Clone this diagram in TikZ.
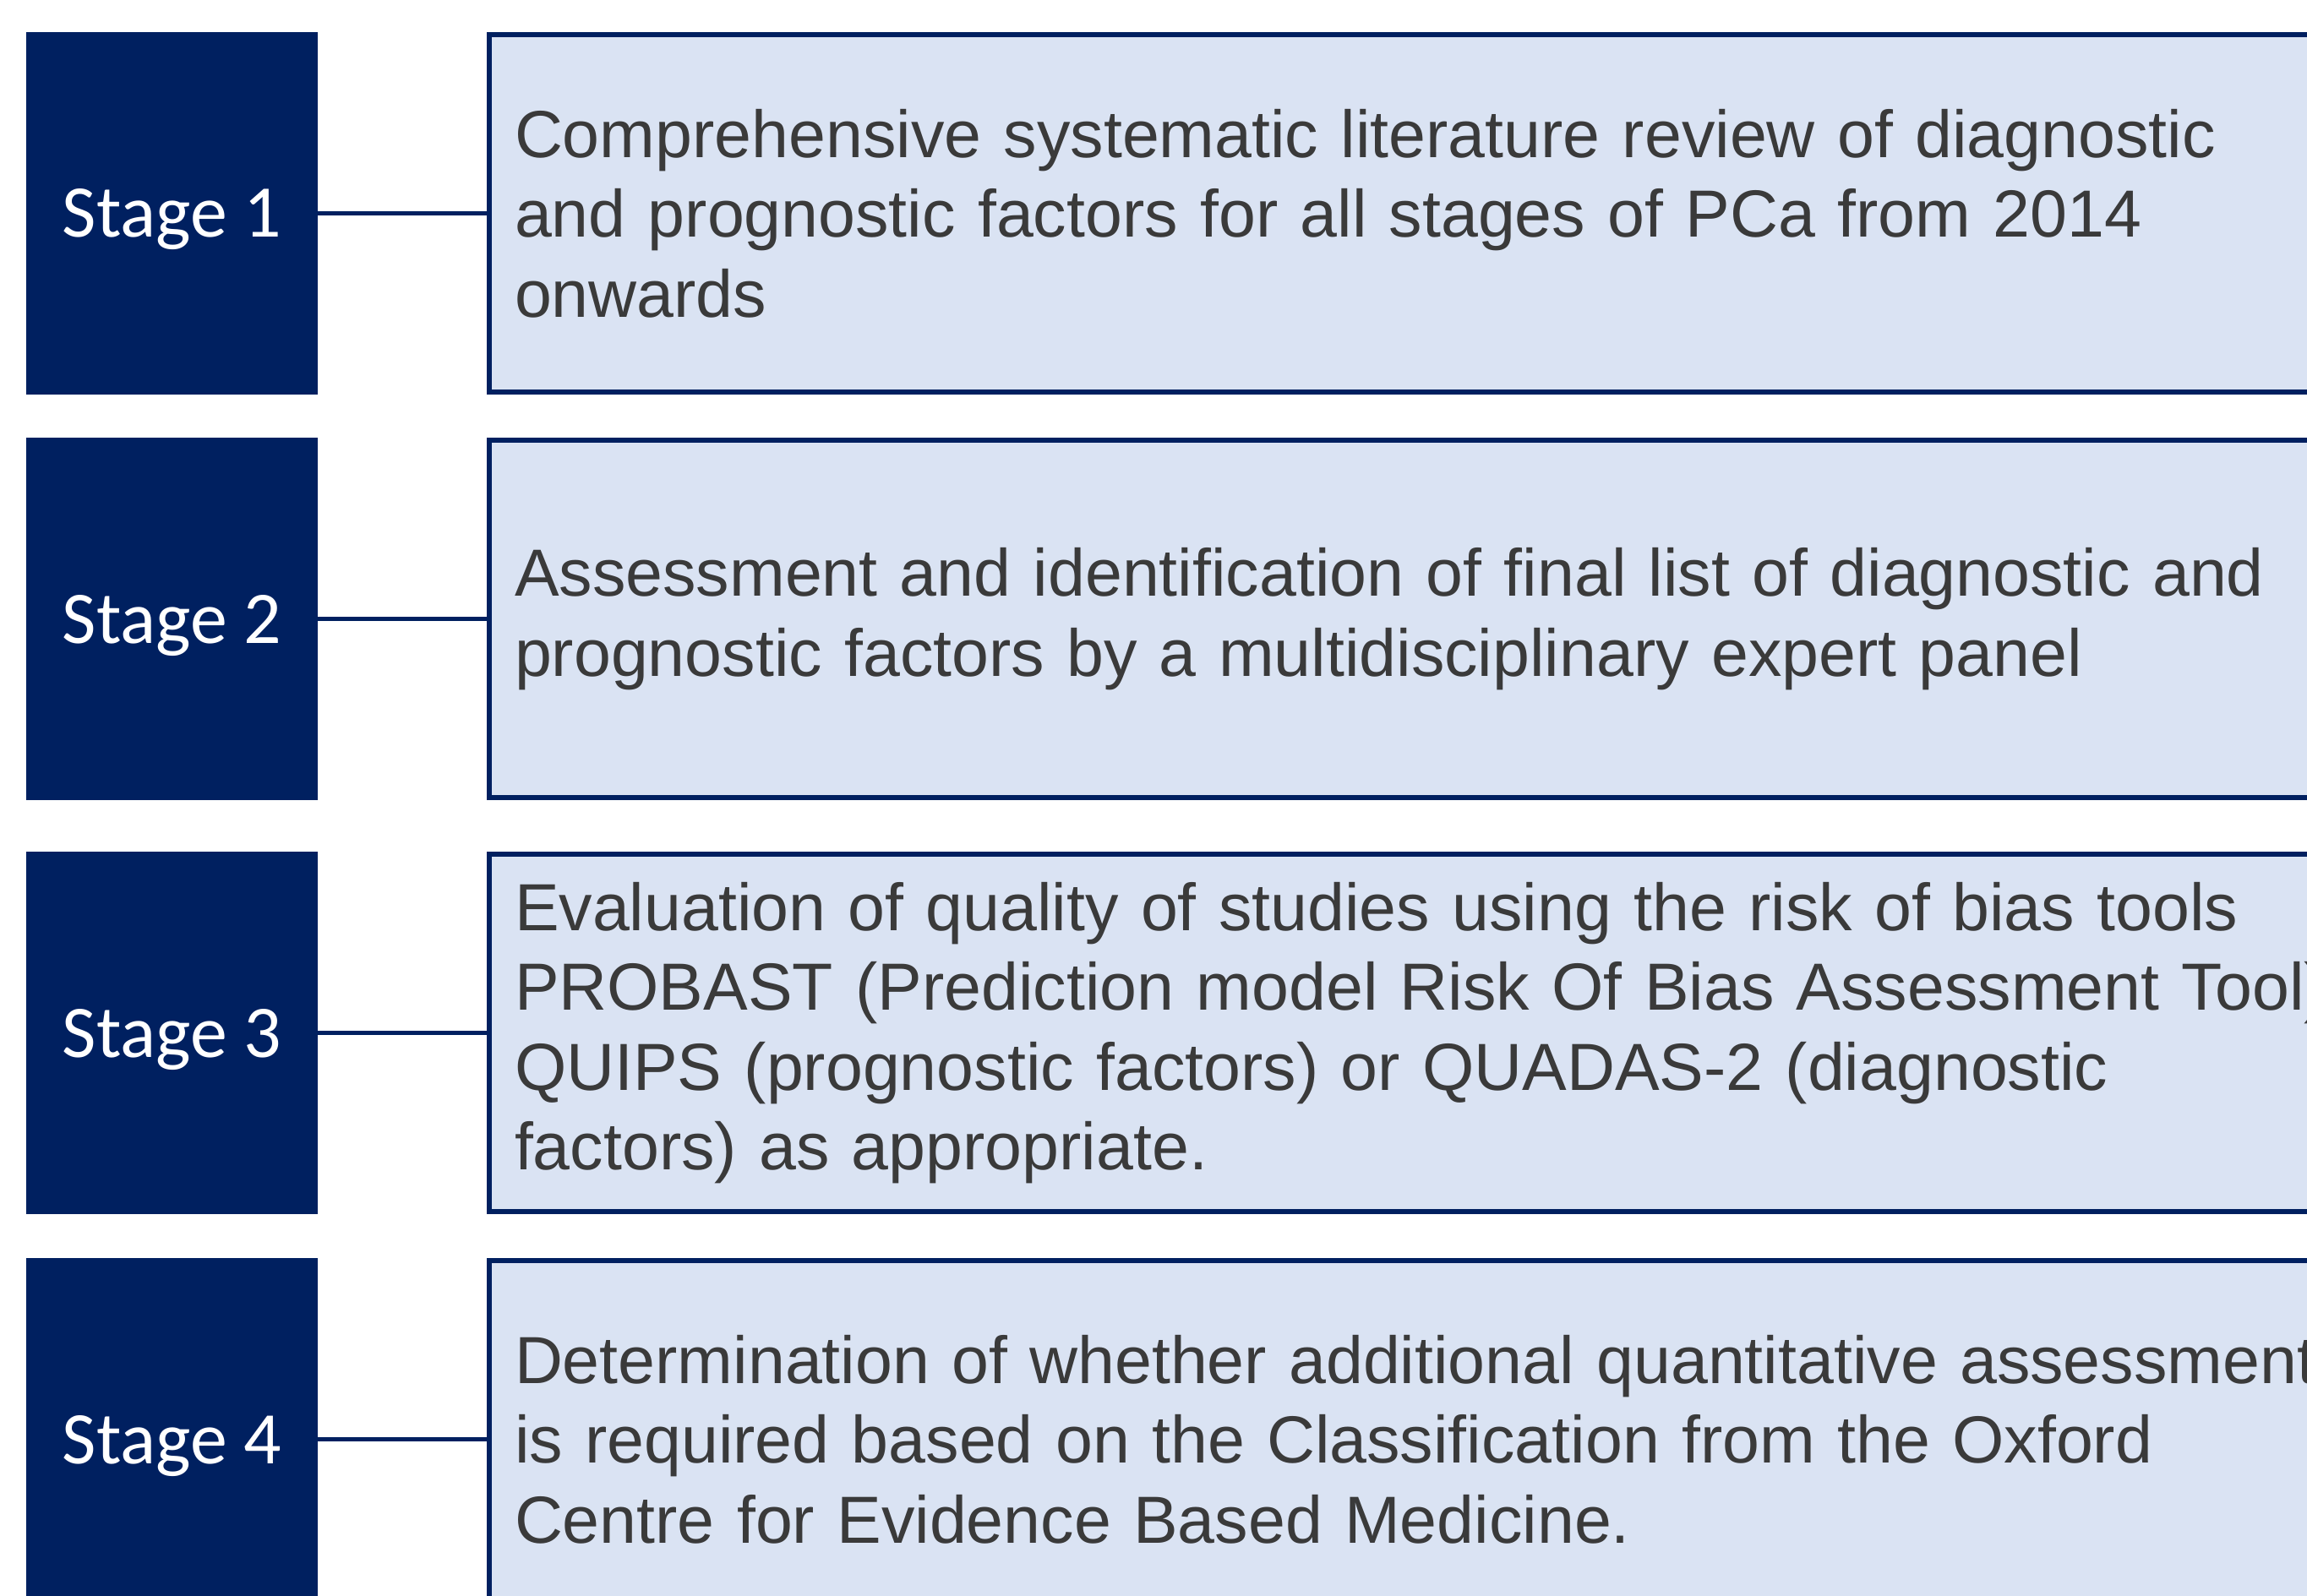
\documentclass[tikz,border=0pt]{standalone}
\usepackage{fontspec}
\usepackage{tikz}
\setmainfont{Liberation Sans}
\newfontfamily\stagefont{Carlito}

\definecolor{navy}{HTML}{002060}
\definecolor{paleblue}{HTML}{DAE3F3}
\definecolor{bodytext}{HTML}{3A3A3A}

\tikzset{
  stagebox/.style={fill=navy,text=white,minimum width=3.45cm,minimum height=4.29cm,
    inner sep=0pt,outer sep=0pt,text depth=0pt,font=\stagefont\fontsize{25}{30}\selectfont},
  taskbox/.style={draw=navy,fill=paleblue,line width=1.7pt,anchor=west,
    minimum height=4.23cm,text width=23cm,align=left,inner xsep=0.3cm,outer sep=0pt,
    text=bodytext,font=\fontsize{22.45}{26.9}\selectfont},
  link/.style={draw=navy,line width=1.4pt}
}

\begin{document}
\begin{tikzpicture}
\useasboundingbox (0,0) rectangle (27.3,-18.89);
\clip (0,0) rectangle (27.3,-18.89);
\fill[white] (0,0) rectangle (27.3,-18.89);

% stages on the left
\node[stagebox] (s1) at (2.035,-2.525) {Stage 1};
\node[stagebox] (s2) at (2.035,-7.325) {Stage 2};
\node[stagebox] (s3) at (2.035,-12.225) {Stage 3};
\node[stagebox] (s4) at (2.035,-17.035) {Stage 4};

% what each stage does
\node[taskbox] (t1) at (5.79,-2.525) {Comprehensive systematic literature review of diagnostic\\
and prognostic factors for all stages of PCa from 2014\\
onwards};
\node[taskbox] (t2) at (5.79,-7.325) {Assessment and identification of final list of diagnostic and\\
prognostic factors by a multidisciplinary expert panel};
\node[taskbox] (t3) at (5.79,-12.225) {Evaluation of quality of studies using the risk of bias tools\\
PROBAST (Prediction model Risk Of Bias Assessment Tool),\\
QUIPS (prognostic factors) or QUADAS-2 (diagnostic\\
factors) as appropriate.};
\node[taskbox] (t4) at (5.79,-17.035) {Determination of whether additional quantitative assessment\\
is required based on the Classification from the Oxford\\
Centre for Evidence Based Medicine.};

\draw[link] (s1.east) -- (t1.west);
\draw[link] (s2.east) -- (t2.west);
\draw[link] (s3.east) -- (t3.west);
\draw[link] (s4.east) -- (t4.west);

\end{tikzpicture}
\end{document}
